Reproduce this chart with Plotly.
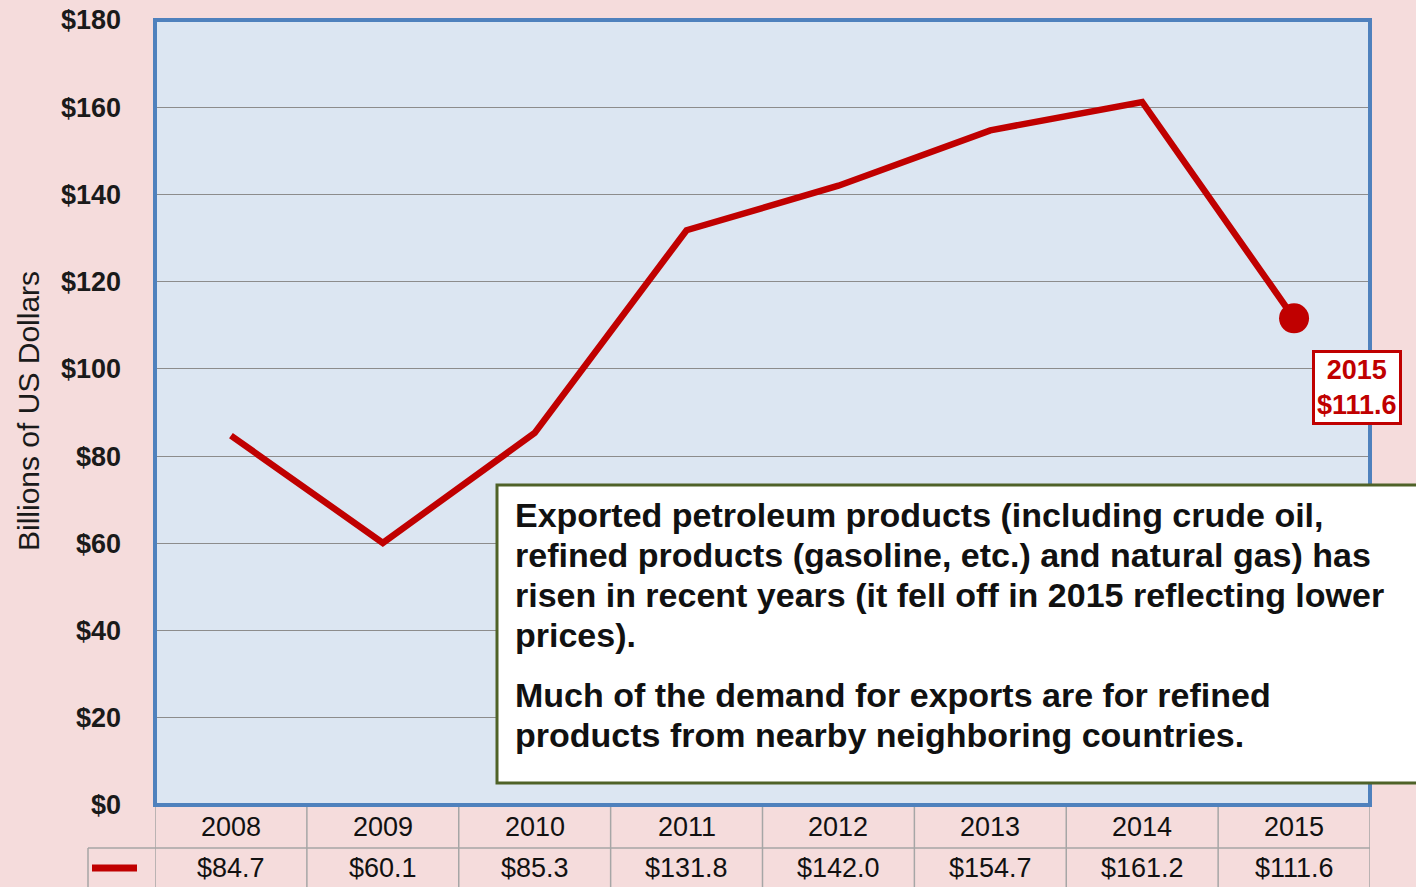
import plotly.graph_objects as go

years = ["2008", "2009", "2010", "2011", "2012", "2013", "2014", "2015"]
exports = [84.7, 60.1, 85.3, 131.8, 142.0, 154.7, 161.2, 111.6]
value_labels = ["$84.7", "$60.1", "$85.3", "$131.8", "$142.0", "$154.7", "$161.2", "$111.6"]
y_ticks = [0, 20, 40, 60, 80, 100, 120, 140, 160, 180]
y_tick_labels = ["$0", "$20", "$40", "$60", "$80", "$100", "$120", "$140", "$160", "$180"]

note_lines = [
    "Exported petroleum products (including crude oil,",
    "refined products (gasoline, etc.) and natural gas) has",
    "risen in recent years (it fell off in 2015 reflecting lower",
    "prices).",
    "Much of the demand for exports are for refined",
    "products from nearby neighboring countries.",
]
note_line_px = [515, 555, 595, 635, 695, 735]

RED = "#c00000"
W, H = 1416, 887
L, R, T, B = 155, 46, 20, 82
pw, ph = W - L - R, H - T - B

def px_x(p):
    return (p - L) / pw

def px_y(p):
    return (H - B - p) / ph

fig = go.Figure()
fig.add_trace(go.Scatter(x=list(range(len(years))), y=exports, mode="lines",
                         line=dict(color=RED, width=6.5), hoverinfo="skip"))
fig.add_trace(go.Scatter(x=[len(years) - 1], y=[exports[-1]], mode="markers",
                         marker=dict(color=RED, size=30), hoverinfo="skip"))

shapes = []
# table lines
for i in range(len(years) + 1):
    shapes.append(dict(type="line", xref="x", yref="paper", x0=i - 0.5, x1=i - 0.5,
                       y0=0, y1=px_y(H + 5), line=dict(color="#a6a6a6", width=1.5)))
shapes.append(dict(type="line", xref="paper", yref="paper", x0=px_x(88), x1=1,
                   y0=px_y(848), y1=px_y(848), line=dict(color="#a6a6a6", width=1.5)))
shapes.append(dict(type="line", xref="paper", yref="paper", x0=px_x(88), x1=px_x(88),
                   y0=px_y(848), y1=px_y(H + 5), line=dict(color="#a6a6a6", width=1.5)))
# legend key
shapes.append(dict(type="line", xref="paper", yref="paper", x0=px_x(92), x1=px_x(137),
                   y0=px_y(868), y1=px_y(868), line=dict(color=RED, width=7)))
# plot border
shapes.append(dict(type="rect", xref="paper", yref="paper", x0=0, x1=1, y0=0, y1=1,
                   line=dict(color="#4f81bd", width=4), layer="above"))
# text box
shapes.append(dict(type="rect", xref="paper", yref="paper", x0=px_x(497), x1=px_x(1430),
                   y0=px_y(783), y1=px_y(485), fillcolor="white",
                   line=dict(color="#4f6228", width=3), layer="above"))

annotations = []
for i, (yr, v) in enumerate(zip(years, value_labels)):
    annotations.append(dict(x=i, y=px_y(827), xref="x", yref="paper", text=yr,
                            xanchor="center", yanchor="middle",
                            showarrow=False, font=dict(size=27, color="#111111")))
    annotations.append(dict(x=i, y=px_y(868), xref="x", yref="paper", text=v,
                            xanchor="center", yanchor="middle",
                            showarrow=False, font=dict(size=27, color="#111111")))

for line, py in zip(note_lines, note_line_px):
    annotations.append(dict(x=px_x(513), y=px_y(py), xref="paper", yref="paper",
                            xanchor="left", yanchor="middle", align="left",
                            text="<b>" + line + "</b>", showarrow=False,
                            font=dict(size=34, color="#111111")))

annotations.append(dict(x=len(years) - 1, y=exports[-1], xref="x", yref="y",
                        text="<b>2015<br>$111.6</b>", showarrow=False,
                        xshift=63, yshift=-69, bgcolor="white", bordercolor=RED,
                        borderwidth=3, borderpad=2, font=dict(size=27, color=RED)))

annotations.append(dict(x=px_x(28), y=px_y(411), xref="paper", yref="paper",
                        xanchor="center", yanchor="middle",
                        text="Billions of US Dollars", textangle=-90, showarrow=False,
                        font=dict(size=30, color="#1a1a1a")))

fig.update_layout(
    width=W, height=H, margin=dict(l=L, r=R, t=T, b=B, autoexpand=False),
    paper_bgcolor="#f5dcdc", plot_bgcolor="#dce6f2",
    font=dict(family="Arial, Liberation Sans, sans-serif"),
    showlegend=False, shapes=shapes, annotations=annotations,
    xaxis=dict(range=[-0.5, len(years) - 0.5], showticklabels=False, automargin=False,
               showgrid=False, zeroline=False, ticks=""),
    yaxis=dict(range=[0, 180], tickvals=y_ticks, automargin=False,
               ticktext=["<b>" + t + "</b>" for t in y_tick_labels],
               tickfont=dict(size=27, color="#1a1a1a"), showgrid=True,
               gridcolor="#8c8c8c", gridwidth=1, zeroline=False, ticklabelstandoff=33),
)

fig.write_html("out.html", config={"displayModeBar": False},
               post_script="document.body.style.margin='0';")
